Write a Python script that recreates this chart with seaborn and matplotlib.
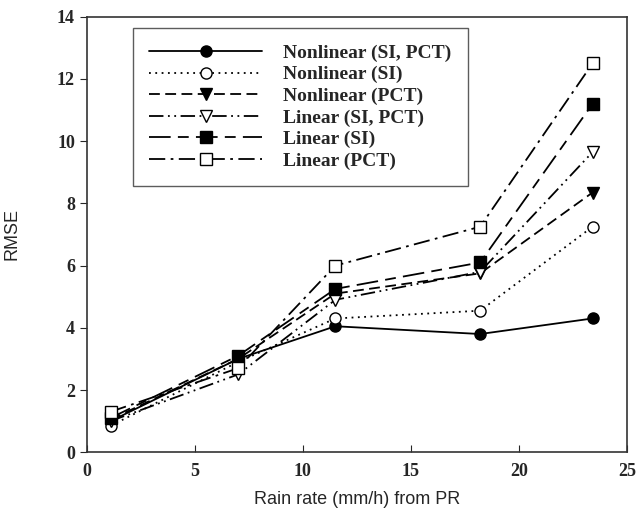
import matplotlib
matplotlib.use("Agg")
import matplotlib.pyplot as plt
import seaborn as sns
import pandas as pd

# rain rate bins (mm/h) and RMSE for each retrieval
rain_rate = [1.1, 7.0, 11.5, 18.2, 23.4]
nl_si_pct = [1.0, 3.0, 4.05, 3.8, 4.3]
nl_si = [0.85, 2.9, 4.3, 4.55, 7.25]
nl_pct = [1.05, 3.0, 5.1, 5.75, 8.35]
lin_si_pct = [1.0, 2.5, 4.9, 5.8, 9.65]
lin_si = [1.1, 3.1, 5.25, 6.1, 11.2]
lin_pct = [1.3, 2.7, 6.0, 7.25, 12.5]

labels = ["Nonlinear (SI, PCT)", "Nonlinear (SI)", "Nonlinear (PCT)",
          "Linear (SI, PCT)", "Linear (SI)", "Linear (PCT)"]
series = [nl_si_pct, nl_si, nl_pct, lin_si_pct, lin_si, lin_pct]

df = pd.DataFrame({
    "rain": rain_rate * len(series),
    "rmse": sum(series, []),
    "model": [lab for lab in labels for _ in rain_rate],
})

sns.set_style("ticks")

styles = {
    "Nonlinear (SI, PCT)": dict(ls="-", marker="o", mfc="black"),
    "Nonlinear (SI)": dict(ls=(0, (1, 2.5)), marker="o", mfc="white"),
    "Nonlinear (PCT)": dict(ls=(0, (6, 3)), marker="v", mfc="black"),
    "Linear (SI, PCT)": dict(ls=(0, (8, 2.5, 1, 2.5, 1, 2.5)), marker="v", mfc="white"),
    "Linear (SI)": dict(ls=(0, (12, 4, 6, 4)), marker="s", mfc="black"),
    "Linear (PCT)": dict(ls=(0, (9, 3, 1.5, 3)), marker="s", mfc="white"),
}

fig = plt.figure(figsize=(6.38, 5.24), dpi=100)
ax = fig.add_axes([0.136, 0.137, 0.847, 0.831])

for lab in labels:
    st = styles[lab]
    sub = df[df["model"] == lab]
    sns.lineplot(data=sub, x="rain", y="rmse", ax=ax, color="black", lw=1.3,
                 linestyle=st["ls"], marker=st["marker"], markersize=8,
                 markerfacecolor=st["mfc"], markeredgecolor="black",
                 markeredgewidth=1.0, label=lab)

ax.set_xlim(0, 25)
ax.set_ylim(0, 14)
ax.set_xticks(range(0, 26, 5))
ax.set_yticks(range(0, 15, 2))
for t in ax.get_xticklabels() + ax.get_yticklabels():
    t.set_fontfamily("Liberation Serif")
    t.set_fontweight("bold")
    t.set_fontsize(13)
ax.tick_params(axis="x", direction="in", length=5, pad=8)
ax.tick_params(axis="y", direction="out", length=5)
for s in ax.spines.values():
    s.set_linewidth(1.2)
    s.set_color("#333333")

ax.set_xlabel("Rain rate (mm/h) from PR", fontsize=13, family="Liberation Sans", labelpad=8)
ax.set_ylabel("RMSE", fontsize=13, family="Liberation Sans", labelpad=26)

leg = ax.legend(loc="upper left", bbox_to_anchor=(0.085, 0.975), handlelength=5.8,
                handletextpad=1.1, markerfirst=True, fancybox=False, frameon=True,
                borderpad=0.85, borderaxespad=0, labelspacing=0.2,
                prop={"family": "Liberation Serif", "weight": "bold", "size": 14})
leg.get_frame().set_edgecolor("#333333")
leg.get_frame().set_linewidth(1.0)

fig.savefig("out.png", dpi=100)
